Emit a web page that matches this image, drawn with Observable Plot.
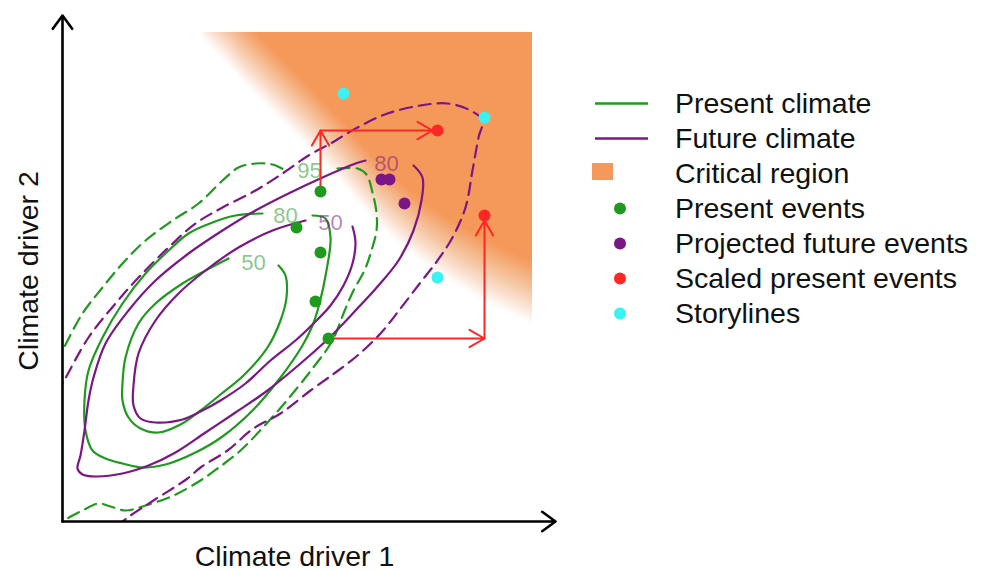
<!DOCTYPE html>
<html><head><meta charset="utf-8">
<script src="https://cdn.jsdelivr.net/npm/d3@7"></script>
<script src="https://cdn.jsdelivr.net/npm/@observablehq/plot@0.6"></script>
<style>
body{margin:0;background:#fff;font-family:"Liberation Sans",Arial,sans-serif;}
#wrap{position:relative;width:988px;height:571px;overflow:hidden;}
#legend{position:absolute;left:0;top:0;width:988px;height:571px;pointer-events:none;}
.row{position:absolute;left:0;height:35px;line-height:35px;font-size:28.5px;color:#111;white-space:nowrap;}
.row svg{position:absolute;left:585px;top:0;}
.row span{position:absolute;left:675px;top:0;}
</style></head><body>
<div id="wrap"><div id="chart"></div><div id="legend"></div></div>
<script>
// ---- data (conceptual units: climate driver 1 / climate driver 2) ----
// the frame is the critical region's box; the axes run a little past it
const xDomain = [0, 470];
const yDomain = [0, 489];
const axisEnd = [493, 506];

const present50 = [[216,256],[223,246],[224,224],[218,201],[205,174],[181,146],[158,127],[138,111],[118,97],[96,89],[78,93],[66,104],[60,121],[60,138],[63,164],[76,198],[93,218],[120,238],[143,251],[166,263]];
const present80 = [[250,306],[263,303],[268,284],[264,251],[257,218],[250,196],[240,176],[218,144],[190,111],[160,85],[133,69],[103,57],[80,54],[60,58],[43,63],[30,71],[23,91],[22,121],[26,151],[40,184],[60,218],[83,248],[103,268],[126,288],[150,299],[173,306],[200,308]];
const present95a = [[-6,159],[0,171],[20,208],[40,234],[60,258],[83,281],[110,301],[136,318],[160,341],[176,354],[193,358],[210,357],[223,351]];
const present95b = [[275,353],[295,353],[304,347],[310,329],[314,309],[314,291],[309,271],[302,251],[291,231],[281,208],[270,181],[250,153],[226,123],[205,99],[178,71],[155,53],[138,41],[111,26],[83,16],[63,11],[48,15],[36,18],[20,11],[5,3],[-2,-3]];

const future50 = [[290,295],[293,279],[290,258],[281,236],[268,216],[251,198],[233,181],[208,161],[183,138],[158,121],[138,110],[120,102],[93,99],[78,103],[71,116],[71,136],[76,168],[93,201],[116,228],[143,251],[176,274],[210,291],[243,301]];
const future80 = [[351,356],[360,344],[359,321],[351,291],[336,261],[316,236],[293,211],[266,183],[238,158],[205,131],[173,109],[143,89],[113,69],[86,56],[60,48],[33,45],[20,47],[15,53],[18,66],[22,91],[26,121],[31,144],[43,178],[66,211],[93,241],[126,268],[160,291],[193,311],[226,328],[260,344],[293,358],[303,361]];
const future95 = [[-6,128],[0,138],[26,184],[53,218],[76,244],[106,274],[133,298],[160,314],[193,331],[220,348],[246,366],[268,378],[295,394],[325,408],[358,416],[385,418],[408,411],[420,401],[416,384],[410,351],[403,314],[390,284],[375,261],[358,239],[338,213],[318,188],[295,166],[273,149],[248,131],[218,108],[191,93],[165,71],[138,54],[125,43],[91,21],[68,6],[56,-3]];

const labelText = ["95","80","50","50","80"];
const labelX = [247,223,191,268,324];
const labelY = [351,306,259,299,358];
const labelClimate = ["present","present","present","future","future"];

const presentEvents = [[258,330],[234,294],[258,269],[253,220],[266,183]];
const futureEvents = [[319,342],[327,342],[342,318]];
const scaledEvents = [[375,391],[422,306]];
const scaledFrom = [0,4];           // index of the present event that was scaled
const scaledPath = ["yx","xy"];     // order in which the drivers are shifted
const storylines = [[281,428],[422,404],[375,244]];

// critical region: mid-line of its soft lower-left edge (it fills up to the frame's top/right)
const criticalEdge = [[120,540],[143,511],[165,488],[183,468],[238,413],[278,371],[318,326],[368,284],[418,253],[470,228],[518,206],[560,190]];

const legendLabels = ["Present climate","Future climate","Critical region","Present events","Projected future events","Scaled present events","Storylines"];
const legendKinds = ["line","line","rect","dot","dot","dot","dot"];

// ---- styles ----
const GREEN = "#1f9a1f", PURPLE = "#7b1785", ORANGE = "#f5995b", RED = "#ff2626", CYAN = "#3af2f2";
const legendColors = [GREEN, PURPLE, ORANGE, GREEN, PURPLE, RED, CYAN];
const colorOf = {present: GREEN, future: PURPLE};
const EDGE_WIDTH = 64, EDGE_STEPS = 20;   // soft edge of the critical region

const px = d => d[0], py = d => d[1];
const contour = (pts, color, dashed) => Plot.line(pts, {x: px, y: py, stroke: color, strokeWidth: 2.2,
  strokeDasharray: dashed ? "12,7" : null, curve: "catmull-rom", clip: true});

// stacked translucent layers give a linear fade across the edge
const criticalLayers = d3.range(1, EDGE_STEPS + 1).map(j => {
  const t = -EDGE_WIDTH / 2 + (j - 0.5) * EDGE_WIDTH / EDGE_STEPS;
  return Plot.areaY(criticalEdge, {x: px, y1: d => d[1] + t, y2: 900, fill: ORANGE,
    fillOpacity: 1 / (EDGE_STEPS - j + 1), curve: "catmull-rom", clip: true});
});

const labels = labelText.map((t, i) => ({t, x: labelX[i], y: labelY[i], c: colorOf[labelClimate[i]]}));

const legs1 = [], legs2 = [];
scaledEvents.forEach((s, i) => {
  const p = presentEvents[scaledFrom[i]];
  const corner = scaledPath[i] === "yx" ? [p[0], s[1]] : [s[0], p[1]];
  legs1.push({x1: p[0], y1: p[1], x2: corner[0], y2: corner[1]});
  legs2.push({x1: corner[0], y1: corner[1], x2: s[0], y2: s[1]});
});
const axes = [{x1: xDomain[0], y1: yDomain[0], x2: axisEnd[0], y2: yDomain[0]},
              {x1: xDomain[0], y1: yDomain[0], x2: xDomain[0], y2: axisEnd[1]}];

const chart = Plot.plot({
  width: 988, height: 571,
  marginLeft: 62, marginRight: 456, marginTop: 32, marginBottom: 50,
  x: {domain: xDomain, axis: null},
  y: {domain: yDomain, axis: null},
  style: {fontFamily: "Liberation Sans, Arial, sans-serif", background: "white", overflow: "visible"},
  marks: [
    ...criticalLayers,
    contour(present95a, GREEN, true), contour(present95b, GREEN, true),
    contour(future95, PURPLE, true),
    contour(present80, GREEN, false), contour(present50, GREEN, false),
    contour(future80, PURPLE, false), contour(future50, PURPLE, false),
    Plot.text(labels, {x: "x", y: "y", text: "t", fill: "c", fillOpacity: 0.55, fontSize: 22}),
    Plot.arrow(legs1, {x1: "x1", y1: "y1", x2: "x2", y2: "y2", stroke: RED, strokeWidth: 2, headAngle: 60, headLength: 13}),
    Plot.arrow(legs2, {x1: "x1", y1: "y1", x2: "x2", y2: "y2", stroke: RED, strokeWidth: 2, headAngle: 60, headLength: 13, insetEnd: 5}),
    Plot.arrow(axes, {x1: "x1", y1: "y1", x2: "x2", y2: "y2", stroke: "black", strokeWidth: 2.6, headAngle: 72, headLength: 9.5}),
    Plot.dot(presentEvents, {x: px, y: py, r: 6, fill: GREEN}),
    Plot.dot(futureEvents, {x: px, y: py, r: 6, fill: PURPLE}),
    Plot.dot(scaledEvents, {x: px, y: py, r: 6, fill: RED}),
    Plot.dot(storylines, {x: px, y: py, r: 6, fill: CYAN}),
    Plot.text(["Climate driver 1"], {frameAnchor: "bottom", textAnchor: "middle", lineAnchor: "middle", dx: -3, dy: 35, fontSize: 28.5, fill: "#111"}),
    Plot.text(["Climate driver 2"], {frameAnchor: "left", textAnchor: "middle", lineAnchor: "middle", rotate: -90, dx: -34, dy: -6, fontSize: 28.5, fill: "#111"})
  ]
});
document.getElementById("chart").appendChild(chart);

// legend
const legend = d3.select("#legend");
legendLabels.forEach((label, i) => {
  const row = legend.append("div").attr("class", "row").style("top", (103 + 35 * i - 17.5) + "px").style("width", "988px");
  const s = row.append("svg").attr("width", 80).attr("height", 35);
  const k = legendKinds[i], c = legendColors[i];
  if (k === "line") s.append("line").attr("x1", 10).attr("x2", 63).attr("y1", 17.5).attr("y2", 17.5).attr("stroke", c).attr("stroke-width", 2.4);
  else if (k === "rect") s.append("rect").attr("x", 7).attr("y", 7).attr("width", 21).attr("height", 17).attr("fill", c);
  else s.append("circle").attr("cx", 35).attr("cy", 17.5).attr("r", 6).attr("fill", c);
  row.append("span").text(label);
});
</script>
</body></html>
